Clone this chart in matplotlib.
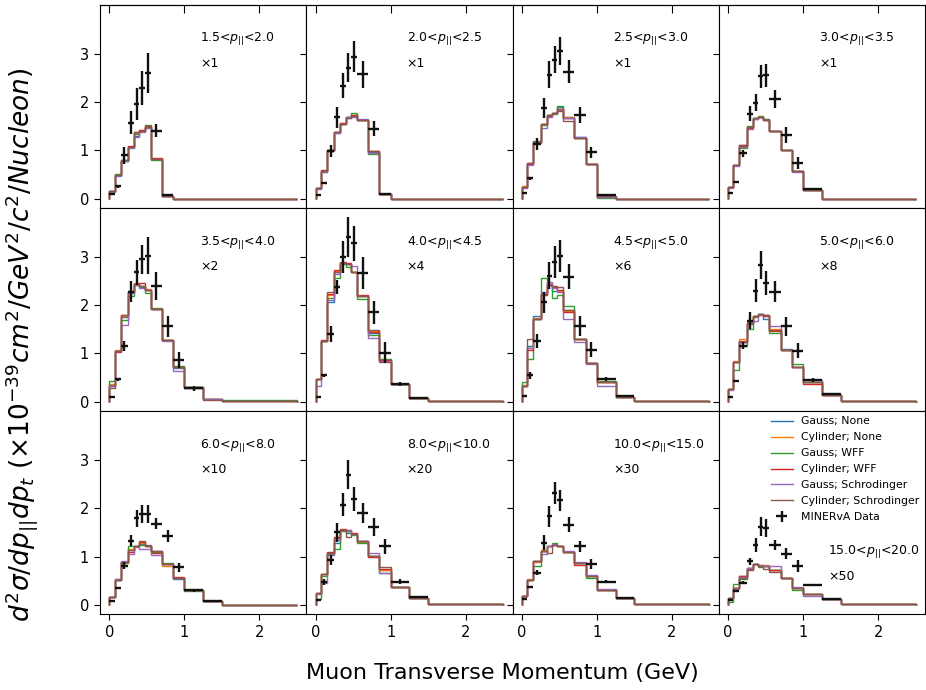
import numpy as np
import matplotlib.pyplot as plt

nan = np.nan

# muon transverse momentum bin edges (GeV)
pt_edges = [0.0, 0.07, 0.15, 0.25, 0.33, 0.4, 0.47, 0.55, 0.7, 0.85, 1.0, 1.25, 1.5, 2.5]

p_par_bins = [("1.5", "2.0"), ("2.0", "2.5"), ("2.5", "3.0"), ("3.0", "3.5"),
              ("3.5", "4.0"), ("4.0", "4.5"), ("4.5", "5.0"), ("5.0", "6.0"),
              ("6.0", "8.0"), ("8.0", "10.0"), ("10.0", "15.0"), ("15.0", "20.0")]
scales = [1, 1, 1, 1, 2, 4, 6, 8, 10, 20, 30, 50]

model_labels = ["Gauss; None", "Cylinder; None", "Gauss; WFF", "Cylinder; WFF",
                "Gauss; Schrodinger", "Cylinder; Schrodinger"]

# model predictions, one row per model (order as model_labels)
m1 = [[0.15, 0.49, 0.79, 1.06, 1.30, 1.41, 1.48, 0.83, 0.06, 0, 0, 0, 0],
      [0.16, 0.50, 0.80, 1.08, 1.36, 1.42, 1.49, 0.83, 0.06, 0, 0, 0, 0],
      [0.15, 0.51, 0.78, 1.07, 1.33, 1.40, 1.53, 0.80, 0.06, 0, 0, 0, 0],
      [0.15, 0.50, 0.81, 1.09, 1.37, 1.42, 1.50, 0.84, 0.06, 0, 0, 0, 0],
      [0.14, 0.48, 0.78, 1.05, 1.28, 1.38, 1.47, 0.82, 0.05, 0, 0, 0, 0],
      [0.15, 0.50, 0.80, 1.08, 1.38, 1.40, 1.48, 0.83, 0.06, 0, 0, 0, 0]]
m2 = [[0.22, 0.58, 1.00, 1.39, 1.55, 1.69, 1.73, 1.62, 0.97, 0.10, 0, 0, 0],
      [0.23, 0.57, 1.01, 1.37, 1.56, 1.68, 1.72, 1.62, 0.99, 0.10, 0, 0, 0],
      [0.23, 0.56, 0.98, 1.36, 1.54, 1.67, 1.77, 1.62, 0.92, 0.10, 0, 0, 0],
      [0.22, 0.59, 1.01, 1.38, 1.56, 1.70, 1.73, 1.62, 0.99, 0.10, 0, 0, 0],
      [0.21, 0.56, 0.98, 1.36, 1.54, 1.70, 1.70, 1.65, 0.95, 0.09, 0, 0, 0],
      [0.22, 0.57, 1.00, 1.37, 1.55, 1.67, 1.71, 1.62, 0.99, 0.10, 0, 0, 0]]
m3 = [[0.25, 0.73, 1.19, 1.54, 1.73, 1.77, 1.89, 1.68, 1.27, 0.72, 0.04, 0, 0],
      [0.26, 0.74, 1.18, 1.55, 1.74, 1.78, 1.86, 1.69, 1.26, 0.71, 0.04, 0, 0],
      [0.25, 0.72, 1.18, 1.53, 1.73, 1.76, 1.92, 1.67, 1.26, 0.72, 0.01, 0, 0],
      [0.24, 0.72, 1.17, 1.54, 1.72, 1.77, 1.85, 1.67, 1.25, 0.71, 0.04, 0, 0],
      [0.22, 0.70, 1.16, 1.46, 1.68, 1.77, 1.84, 1.66, 1.27, 0.72, 0.04, 0, 0],
      [0.25, 0.73, 1.18, 1.54, 1.73, 1.77, 1.82, 1.61, 1.26, 0.72, 0.05, 0, 0]]
m4 = [[0.24, 0.69, 1.12, 1.49, 1.67, 1.70, 1.64, 1.41, 1.00, 0.57, 0.19, 0, 0],
      [0.24, 0.69, 1.10, 1.48, 1.66, 1.70, 1.63, 1.41, 1.00, 0.57, 0.19, 0, 0],
      [0.24, 0.70, 1.05, 1.50, 1.67, 1.71, 1.64, 1.41, 1.00, 0.57, 0.19, 0, 0],
      [0.24, 0.69, 1.11, 1.47, 1.65, 1.70, 1.62, 1.41, 1.00, 0.57, 0.19, 0, 0],
      [0.22, 0.68, 1.08, 1.45, 1.64, 1.68, 1.63, 1.40, 1.00, 0.55, 0.19, 0, 0],
      [0.24, 0.69, 1.10, 1.48, 1.66, 1.70, 1.63, 1.41, 1.00, 0.57, 0.19, 0, 0]]
m5 = [[0.35, 1.06, 1.75, 2.27, 2.43, 2.40, 2.31, 1.92, 1.28, 0.70, 0.30, 0.05, 0.01],
      [0.36, 1.07, 1.77, 2.29, 2.45, 2.40, 2.33, 1.92, 1.28, 0.73, 0.30, 0.05, 0.01],
      [0.43, 1.06, 1.70, 2.19, 2.42, 2.38, 2.25, 1.94, 1.28, 0.75, 0.30, 0.06, 0.03],
      [0.33, 1.04, 1.79, 2.27, 2.43, 2.45, 2.32, 1.91, 1.27, 0.72, 0.28, 0.05, 0.01],
      [0.33, 1.06, 1.59, 2.25, 2.42, 2.36, 2.31, 1.92, 1.26, 0.63, 0.29, 0.05, 0.01],
      [0.28, 1.06, 1.79, 2.28, 2.43, 2.40, 2.32, 1.92, 1.28, 0.73, 0.30, 0.03, 0.01]]
m6 = [[0.47, 1.26, 2.06, 2.69, 2.87, 2.85, 2.68, 2.19, 1.42, 0.87, 0.37, 0.07, 0.01],
      [0.47, 1.26, 2.20, 2.70, 2.87, 2.86, 2.68, 2.19, 1.47, 0.87, 0.37, 0.07, 0.01],
      [0.47, 1.26, 2.15, 2.57, 2.86, 2.78, 2.68, 2.12, 1.38, 0.88, 0.37, 0.07, 0.01],
      [0.48, 1.27, 2.22, 2.72, 2.90, 2.88, 2.68, 2.20, 1.45, 0.87, 0.37, 0.07, 0.01],
      [0.33, 1.25, 2.10, 2.65, 2.88, 2.84, 2.81, 2.18, 1.33, 0.85, 0.37, 0.07, 0.01],
      [0.47, 1.26, 2.28, 2.69, 2.87, 2.85, 2.68, 2.19, 1.48, 0.83, 0.37, 0.07, 0.01]]
m7 = [[0.33, 1.15, 1.77, 2.22, 2.42, 2.29, 2.30, 1.90, 1.29, 0.81, 0.40, 0.11, 0.01],
      [0.34, 1.12, 1.73, 2.24, 2.44, 2.37, 2.30, 1.88, 1.29, 0.81, 0.40, 0.11, 0.01],
      [0.41, 0.88, 1.71, 2.57, 2.42, 2.15, 2.20, 1.99, 1.29, 0.81, 0.43, 0.11, 0.01],
      [0.33, 1.07, 1.72, 2.20, 2.43, 2.38, 2.31, 1.85, 1.30, 0.81, 0.40, 0.11, 0.01],
      [0.32, 1.12, 1.72, 2.28, 2.48, 2.36, 2.28, 1.72, 1.24, 0.79, 0.33, 0.11, 0.01],
      [0.33, 1.30, 1.72, 2.22, 2.42, 2.40, 2.38, 1.90, 1.29, 0.81, 0.40, 0.11, 0.01]]
m8 = [[0.26, 0.83, 1.24, 1.61, 1.78, 1.81, 1.71, 1.49, 1.10, 0.73, 0.41, 0.14, 0.01],
      [0.26, 0.85, 1.30, 1.66, 1.78, 1.81, 1.77, 1.50, 1.08, 0.73, 0.41, 0.14, 0.01],
      [0.26, 0.66, 1.16, 1.50, 1.76, 1.81, 1.79, 1.43, 1.08, 0.78, 0.41, 0.14, 0.01],
      [0.26, 0.82, 1.25, 1.64, 1.77, 1.80, 1.78, 1.47, 1.08, 0.71, 0.37, 0.14, 0.01],
      [0.25, 0.82, 1.23, 1.63, 1.68, 1.80, 1.80, 1.57, 1.08, 0.73, 0.46, 0.14, 0.01],
      [0.26, 0.83, 1.24, 1.64, 1.78, 1.81, 1.79, 1.49, 1.08, 0.73, 0.41, 0.14, 0.01]]
m9 = [[0.16, 0.52, 0.88, 1.14, 1.22, 1.27, 1.23, 1.12, 0.85, 0.53, 0.31, 0.09, 0.0],
      [0.16, 0.52, 0.88, 1.15, 1.22, 1.29, 1.21, 1.12, 0.81, 0.55, 0.31, 0.09, 0.0],
      [0.17, 0.52, 0.87, 1.21, 1.22, 1.24, 1.21, 1.10, 0.86, 0.55, 0.28, 0.09, 0.0],
      [0.16, 0.53, 0.88, 1.10, 1.22, 1.30, 1.21, 1.08, 0.85, 0.58, 0.31, 0.09, 0.0],
      [0.17, 0.53, 0.90, 1.06, 1.20, 1.15, 1.16, 1.03, 0.85, 0.55, 0.31, 0.09, 0.0],
      [0.16, 0.52, 0.88, 1.14, 1.22, 1.33, 1.21, 1.12, 0.85, 0.55, 0.31, 0.09, 0.0]]
m10 = [[0.24, 0.63, 1.08, 1.28, 1.55, 1.49, 1.47, 1.33, 1.01, 0.72, 0.38, 0.14, 0.01],
       [0.23, 0.63, 1.08, 1.35, 1.55, 1.53, 1.47, 1.30, 1.01, 0.72, 0.38, 0.14, 0.01],
       [0.12, 0.60, 1.06, 1.15, 1.52, 1.52, 1.45, 1.28, 1.01, 0.65, 0.38, 0.14, 0.01],
       [0.24, 0.64, 1.10, 1.40, 1.56, 1.55, 1.48, 1.33, 1.00, 0.75, 0.38, 0.14, 0.01],
       [0.22, 0.45, 1.03, 1.35, 1.55, 1.54, 1.47, 1.33, 1.08, 0.66, 0.38, 0.14, 0.01],
       [0.24, 0.63, 1.08, 1.38, 1.55, 1.40, 1.47, 1.33, 1.01, 0.78, 0.38, 0.14, 0.01]]
m11 = [[0.19, 0.52, 0.90, 1.12, 1.21, 1.24, 1.22, 1.10, 0.86, 0.60, 0.31, 0.14, 0.01],
       [0.19, 0.53, 0.88, 1.14, 1.22, 1.24, 1.22, 1.10, 0.86, 0.60, 0.31, 0.14, 0.01],
       [0.19, 0.51, 0.81, 1.12, 1.21, 1.29, 1.22, 1.10, 0.86, 0.55, 0.31, 0.14, 0.01],
       [0.19, 0.52, 0.90, 1.12, 1.21, 1.24, 1.22, 1.10, 0.83, 0.60, 0.31, 0.15, 0.01],
       [0.19, 0.52, 0.91, 1.05, 1.22, 1.25, 1.22, 1.12, 0.89, 0.62, 0.32, 0.14, 0.01],
       [0.19, 0.52, 0.90, 1.12, 1.07, 1.24, 1.22, 1.10, 0.86, 0.60, 0.31, 0.14, 0.01]]
m12 = [[0.14, 0.34, 0.59, 0.76, 0.85, 0.81, 0.81, 0.72, 0.55, 0.34, 0.23, 0.12, 0.01],
       [0.14, 0.34, 0.60, 0.76, 0.85, 0.82, 0.82, 0.72, 0.55, 0.34, 0.23, 0.12, 0.01],
       [0.07, 0.43, 0.53, 0.76, 0.84, 0.78, 0.80, 0.72, 0.55, 0.31, 0.23, 0.12, 0.02],
       [0.14, 0.35, 0.59, 0.75, 0.85, 0.81, 0.81, 0.73, 0.55, 0.34, 0.23, 0.12, 0.01],
       [0.13, 0.33, 0.58, 0.77, 0.84, 0.82, 0.81, 0.81, 0.56, 0.37, 0.19, 0.12, 0.01],
       [0.14, 0.34, 0.56, 0.72, 0.85, 0.81, 0.74, 0.69, 0.55, 0.34, 0.23, 0.12, 0.01]]

# MINERvA data and errors per p_|| slice
d1 = [0.10, 0.26, 0.90, 1.57, 1.96, 2.29, 2.60, 1.41, 0.07, nan, nan, nan, nan]
e1 = [0.02, 0.03, 0.18, 0.24, 0.34, 0.36, 0.41, 0.14, 0.01, nan, nan, nan, nan]
d2 = [0.07, 0.32, 0.99, 1.68, 2.34, 2.71, 2.94, 2.57, 1.45, 0.10, nan, nan, nan]
e2 = [0.01, 0.02, 0.12, 0.22, 0.26, 0.30, 0.32, 0.27, 0.15, 0.01, nan, nan, nan]
d3 = [0.11, 0.42, 1.13, 1.87, 2.56, 2.87, 3.06, 2.63, 1.73, 0.96, 0.08, nan, nan]
e3 = [0.01, 0.03, 0.12, 0.21, 0.28, 0.28, 0.29, 0.24, 0.17, 0.12, 0.01, nan, nan]
d4 = [0.12, 0.34, 0.94, 1.76, 1.99, 2.53, 2.55, 2.06, 1.32, 0.74, 0.21, nan, nan]
e4 = [0.01, 0.02, 0.07, 0.15, 0.17, 0.23, 0.24, 0.19, 0.17, 0.12, 0.01, nan, nan]
d5 = [0.11, 0.47, 1.16, 2.28, 2.68, 2.95, 3.02, 2.40, 1.56, 0.87, 0.28, nan, nan]
e5 = [0.01, 0.03, 0.10, 0.22, 0.26, 0.30, 0.38, 0.29, 0.22, 0.17, 0.05, nan, nan]
d6 = [0.09, 0.55, 1.40, 2.37, 2.99, 3.41, 3.28, 2.66, 1.85, 1.02, 0.37, 0.07, nan]
e6 = [0.01, 0.03, 0.17, 0.14, 0.33, 0.41, 0.36, 0.33, 0.24, 0.21, 0.05, 0.01, nan]
d7 = [0.12, 0.55, 1.26, 2.06, 2.61, 2.90, 3.01, 2.59, 1.57, 1.08, 0.47, 0.12, nan]
e7 = [0.01, 0.07, 0.15, 0.22, 0.28, 0.33, 0.33, 0.26, 0.21, 0.16, 0.04, 0.01, nan]
d8 = [0.10, 0.43, 1.16, 1.68, 2.30, 2.83, 2.46, 2.28, 1.56, 1.06, 0.46, 0.16, nan]
e8 = [0.01, 0.03, 0.07, 0.17, 0.24, 0.29, 0.25, 0.22, 0.19, 0.15, 0.04, 0.01, nan]
d9 = [0.09, 0.34, 0.81, 1.33, 1.79, 1.88, 1.88, 1.68, 1.43, 0.78, 0.30, 0.09, nan]
e9 = [0.01, 0.02, 0.07, 0.12, 0.17, 0.19, 0.19, 0.12, 0.12, 0.09, 0.03, 0.01, nan]
d10 = [0.10, 0.48, 0.93, 1.50, 2.07, 2.69, 2.19, 1.90, 1.61, 1.21, 0.48, 0.17, nan]
e10 = [0.01, 0.06, 0.10, 0.19, 0.24, 0.30, 0.24, 0.21, 0.19, 0.15, 0.05, 0.01, nan]
d11 = [0.12, 0.38, 0.67, 1.29, 1.83, 2.31, 2.16, 1.66, 1.21, 0.85, 0.48, 0.14, nan]
e11 = [0.01, 0.02, 0.06, 0.15, 0.21, 0.23, 0.22, 0.16, 0.12, 0.10, 0.03, 0.01, nan]
d12 = [0.10, 0.28, 0.46, 0.90, 1.24, 1.62, 1.59, 1.24, 1.06, 0.81, 0.41, 0.12, nan]
e12 = [0.01, 0.02, 0.03, 0.07, 0.15, 0.19, 0.19, 0.11, 0.11, 0.12, 0.02, 0.01, nan]

models = [m1, m2, m3, m4, m5, m6, m7, m8, m9, m10, m11, m12]
data = [d1, d2, d3, d4, d5, d6, d7, d8, d9, d10, d11, d12]
errs = [e1, e2, e3, e4, e5, e6, e7, e8, e9, e10, e11, e12]

colors = ["C0", "C1", "C2", "C3", "C4", "C5"]

edges = np.array(pt_edges)
centers = 0.5 * (edges[1:] + edges[:-1])
halfw = 0.5 * (edges[1:] - edges[:-1])

fig, axes = plt.subplots(3, 4, sharex=True, sharey=True, figsize=(9.26, 6.90), dpi=100)
fig.subplots_adjust(left=0.108, right=0.999, top=0.993, bottom=0.110, wspace=0, hspace=0)

for k, ax in enumerate(axes.flat):
    last = k == 11
    for j in range(6):
        ax.stairs(models[k][j], edges, color=colors[j], lw=1.0,
                  label=model_labels[j] if last else None)
    ax.errorbar(centers, data[k], xerr=halfw, yerr=errs[k], fmt="none",
                ecolor="#111111", elinewidth=1.7,
                label="MINERvA Data" if last else None)

    lo, hi = p_par_bins[k]
    if last:
        tx, ty1, ty2 = 0.53, 0.31, 0.186
    else:
        tx, ty1, ty2 = 0.486, 0.832, 0.71
    ax.text(tx, ty1, f"{lo}<$p_{{||}}$<{hi}", transform=ax.transAxes,
            fontsize=9, ha="left", va="center")
    ax.text(tx, ty2, f"×{scales[k]}", transform=ax.transAxes,
            fontsize=9, ha="left", va="center")

    ax.tick_params(labelsize=10.5, length=4.5)
    if k < 4:
        top = ax.secondary_xaxis("top")
        top.set_xticks([0, 1, 2])
        top.tick_params(direction="in", length=6, labeltop=False)

axes[0, 0].set_xlim(-0.125, 2.625)
axes[0, 0].set_ylim(-0.19, 4.01)
axes[0, 0].set_xticks([0, 1, 2])
axes[0, 0].set_yticks([0, 1, 2, 3])

axes[2, 3].legend(loc="upper right", frameon=False, fontsize=7.8,
                  borderaxespad=0.1, labelspacing=0.55)

fig.text(0.024, 0.5,
         r"$d^2\sigma/dp_{||}dp_t$ $(\times10^{-39}cm^2/GeV^2/c^2/Nucleon)$",
         rotation=90, ha="center", va="center", fontsize=19)
fig.text(0.542, 0.025, "Muon Transverse Momentum (GeV)",
         ha="center", va="center", fontsize=16)

fig.savefig("out.png", dpi=100)
